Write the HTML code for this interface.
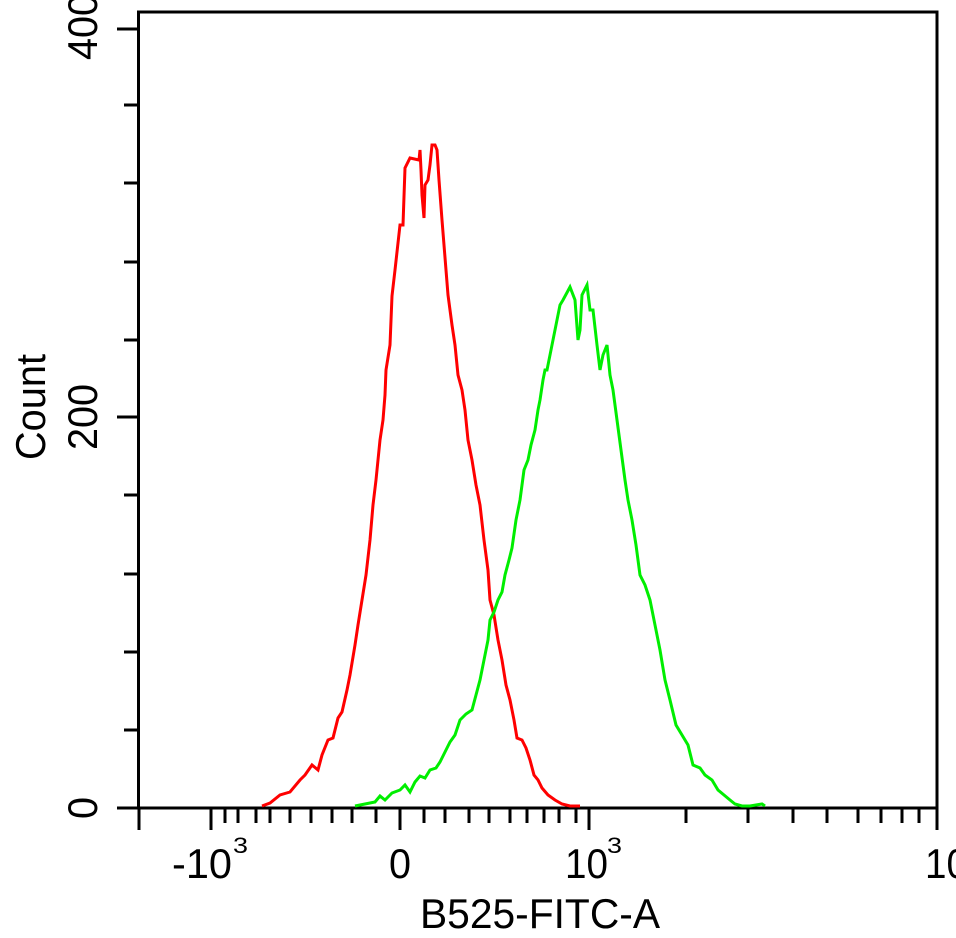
<!DOCTYPE html>
<html><head><style>
html,body{margin:0;padding:0;background:#fff;}
svg{display:block;}
text{font-family:"Liberation Sans",sans-serif;fill:#000;}
</style></head><body>
<svg width="956" height="938" viewBox="0 0 956 938" xmlns="http://www.w3.org/2000/svg">
<g stroke="#000" stroke-width="3" fill="none">
<path d="M138.5 808 V12 H937 V808 Z"/>
<path d="M117 29 H138 M124 105 H138 M124 183 H138 M124 262 H138 M124 340 H138 M117 417 H138 M124 495 H138 M124 574 H138 M124 652 H138 M124 730 H138 M117 808 H138"/>
<path d="M139 808 V830 M211 808 V830 M400 808 V830 M589 808 V830 M937 808 V830"/>
<path d="M225 808V823M238 808V823M256 808V823M270 808V823M290 808V823M311 808V823M332 808V823M352 808V823M376 808V823M424 808V823M445 808V823M469 808V823M489 808V823M510 808V823M527 808V823M544 808V823M559 808V823M576 808V823M686 808V823M748 808V823M793 808V823M827 808V823M858 808V823M881 808V823M902 808V823M919 808V823"/>
</g>
<polyline fill="none" stroke="#ff0000" stroke-width="3" points="262,806 270,803 280,795 290,792 300,780 305,775 312,765 318,770 322,755 328,740 333,738 338,718 342,712 347,690 350,675 355,645 358,625 362,600 366,575 370,540 373,505 376,480 380,440 383,420 385,395 386,370 390,345 392,296 395,270 400,225 403,225 405,168 410,158 419,160 420,150 421,170 422,195 424,218 425,185 428,180 430,165 432,145 435,145 437,150 439,180 442,220 446,270 448,295 452,325 455,345 458,375 462,390 465,410 468,440 472,460 476,485 480,505 484,540 488,570 490,600 494,615 498,640 502,660 506,685 510,700 514,720 517,738 522,740 526,748 530,760 534,775 538,780 542,788 548,795 555,800 562,804 570,806 580,806"/>
<polyline fill="none" stroke="#00ee00" stroke-width="3" points="355,806 365,804 375,802 380,796 385,800 392,793 400,790 405,785 410,792 415,782 420,776 425,778 430,770 436,768 440,762 445,752 450,742 455,735 460,720 466,714 472,710 476,695 480,680 484,660 488,640 490,620 494,612 498,600 502,592 505,575 509,560 512,548 516,520 520,500 524,470 528,460 531,445 535,430 538,410 540,400 543,380 545,370 547,370 552,345 555,330 560,305 563,300 570,287 575,300 578,340 580,330 582,295 587,285 590,310 593,310 597,345 600,370 603,355 607,345 610,375 613,390 617,420 621,450 625,480 628,500 632,520 636,545 640,575 645,585 650,600 655,625 660,650 665,680 670,700 676,725 682,735 688,745 693,765 700,768 705,775 712,780 718,790 724,795 730,800 735,804 742,806 750,806 762,804 765,806"/>
<text x="0" y="0" font-size="42" transform="translate(97,27) rotate(-90)" text-anchor="middle" textLength="66" lengthAdjust="spacingAndGlyphs">400</text>
<text x="0" y="0" font-size="42" transform="translate(97,417) rotate(-90)" text-anchor="middle" textLength="66" lengthAdjust="spacingAndGlyphs">200</text>
<text x="0" y="0" font-size="42" transform="translate(97,808) rotate(-90)" text-anchor="middle" textLength="22" lengthAdjust="spacingAndGlyphs">0</text>
<text x="0" y="0" font-size="42" transform="translate(45,407) rotate(-90)" text-anchor="middle" textLength="106" lengthAdjust="spacingAndGlyphs">Count</text>
<text x="172" y="878" font-size="42" textLength="60" lengthAdjust="spacingAndGlyphs">-10</text>
<text x="233" y="853" font-size="22" textLength="15" lengthAdjust="spacingAndGlyphs">3</text>
<text x="389" y="878" font-size="42" textLength="22" lengthAdjust="spacingAndGlyphs">0</text>
<text x="565" y="878" font-size="42" textLength="43" lengthAdjust="spacingAndGlyphs">10</text>
<text x="607" y="853" font-size="22" textLength="15" lengthAdjust="spacingAndGlyphs">3</text>
<text x="925" y="878" font-size="42" textLength="43" lengthAdjust="spacingAndGlyphs">10</text>
<text x="420" y="928" font-size="42" textLength="240" lengthAdjust="spacingAndGlyphs">B525-FITC-A</text>
</svg>
</body></html>
